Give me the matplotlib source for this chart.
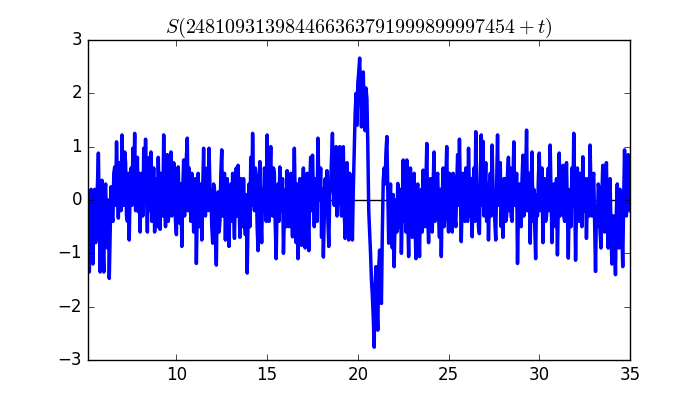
import numpy as np
import matplotlib
matplotlib.use("Agg")
import matplotlib.pyplot as plt

plt.style.use("classic")

s_vals = [
    -0.5, 0.15, -1.35, -0.3, 0.2, -0.6, -1.2, 0.1, 0.2, -0.8,
    -0.5, 0.3, 0.88, -0.2, -1.35, -0.4, 0.37, -0.9, -1.35, 0.1,
    0.3, -0.5, -0.9, 0.0, -1.47, -0.6, 0.25, -0.3, -0.4, 0.5,
    0.62, -0.1, 1.09, 0.3, -0.34, 0.7, 0.6, -0.2, 1.22, 0.4,
    -0.1, 0.9, 0.7, -0.3, -0.4, 0.5, -0.75, 0.2, 0.6, -0.1,
    0.97, 0.3, 1.25, -0.2, 0.2, 0.8, -0.22, 0.5, -0.6, 0.3,
    0.5, -0.3, 0.97, 0.1, 1.14, 0.2, -0.6, 0.4, 0.8, -0.2,
    0.9, -0.4, 0.1, 0.6, -0.6, 0.2, 0.4, -0.5, 0.8, 0.0,
    -0.55, 0.5, 0.3, -0.3, 1.22, 0.1, -0.5, 0.4, 0.85, -0.4,
    -0.2, 0.6, 0.9, -0.3, 0.1, 0.7, 0.6, -0.4, -0.65, 0.2,
    0.62, -0.1, -0.44, 0.3, -0.87, 0.2, 0.75, -0.3, 0.1, 0.8,
    1.16, -0.2, 0.6, 0.1, -0.4, 0.5, 0.3, -0.6, -0.3, 0.4,
    -1.19, -0.2, 0.5, -0.5, -0.2, 0.3, -0.75, 0.2, 0.97, -0.1,
    -0.3, 0.4, 0.6, -0.2, 0.97, 0.2, 0.13, -0.5, -0.81, 0.3,
    0.2, -0.5, -1.22, 0.0, 0.15, -0.6, -0.4, 0.5, 0.94, -0.3,
    0.1, 0.5, -0.75, 0.1, 0.4, -0.5, -0.87, 0.1, 0.3, -0.4,
    0.5, -0.2, -0.72, 0.3, 0.6, -0.3, 0.65, 0.0, -0.7, 0.4,
    0.2, -0.5, 0.4, -0.2, -0.65, 0.1, -1.37, -0.4, 0.3, -0.5,
    0.8, -0.1, 1.25, 0.3, -0.2, 0.6, 0.4, -0.5, -0.95, 0.2,
    0.72, -0.3, -0.8, 0.2, -0.2, 0.6, 0.5, -0.4, 1.22, 0.2,
    -0.4, 0.4, 1.0, -0.2, -0.3, 0.6, 0.5, -0.5, -1.1, 0.0,
    0.3, -0.4, 0.62, 0.1, -0.2, 0.4, -1.0, -0.3, 0.2, -0.5,
    0.55, -0.1, -0.5, 0.3, 0.5, -0.3, -0.69, 0.2, 0.97, 0.0,
    -0.8, 0.3, -1.1, -0.2, 0.4, -0.4, -0.85, 0.2, 0.6, -0.3,
    -0.9, 0.1, 0.5, -0.4, -0.95, 0.3, 0.8, -0.2, 0.84, 0.2,
    -0.5, 0.4, 0.2, -0.4, 1.16, 0.3, 0.0, 0.6, -0.7, 0.2,
    -1.07, -0.3, 0.4, -0.2, 0.55, -0.4, -0.87, 0.1, 0.3, 0.8,
    1.25, 0.2, -0.1, 0.6, 1.0, -0.3, 0.2, 0.7, 1.0, 0.0,
    -0.3, 0.6, 1.0, -0.2, -0.72, 0.3, 0.7, -0.3, -0.75, 0.5,
    0.4, -0.3, -0.75, 0.2, 0.9, 1.6, 2.0, 1.4, 2.2, 2.4,
    2.66, 2.0, 1.37, 2.2, 2.4, 1.6, 1.3, 2.1, 1.9, 1.0,
    -0.2, -0.6, -1.0, -1.5, -1.8, -2.2, -2.76, -1.6, -1.25, -2.0,
    -2.44, -1.3, -0.94, -1.6, -1.94, -0.6, 0.37, 0.6, 0.3, 0.9,
    1.19, 0.2, -0.81, -0.2, 0.3, -0.5, -0.9, 0.1, -1.25, -0.4,
    0.0, -0.6, 0.31, -0.3, -0.5, 0.2, -1.0, -0.2, 0.75, -0.4,
    0.2, -0.6, 0.75, -0.3, -1.06, 0.1, 0.6, -0.2, -0.7, 0.3,
    0.5, -0.4, -1.1, 0.1, 0.3, -0.5, -1.06, 0.0, 0.2, -0.6,
    0.56, -0.2, -0.5, 0.3, 1.06, -0.3, -0.8, 0.2, 0.4, -0.5,
    -0.6, 0.3, 0.9, -0.4, -0.2, 0.4, 0.5, -0.3, -0.7, 0.2,
    -1.06, 0.0, 0.6, -0.5, -0.3, 0.4, 1.0, -0.2, -0.6, 0.5,
    0.3, -0.2, -0.6, 0.5, 0.4, -0.3, -0.5, 0.3, 0.85, -0.1,
    1.14, 0.2, -0.78, 0.0, 0.5, -0.3, -0.4, 0.6, 0.3, -0.4,
    0.97, 0.1, -0.3, 0.4, -0.69, 0.2, 0.6, -0.4, 1.28, 0.3,
    0.1, -0.5, -0.63, 0.4, 1.22, -0.1, 1.1, -0.3, 0.2, 0.7,
    -0.4, 0.3, -0.75, 0.0, 0.5, -0.3, 1.03, 0.2, 0.1, -0.4,
    -0.75, 0.3, 1.22, -0.1, 0.3, 0.7, -0.5, 0.2, -0.7, 0.4,
    0.4, -0.4, -0.3, 0.5, 0.8, -0.2, 0.6, -0.3, -0.4, 0.4,
    1.09, -0.1, 0.0, 0.5, -1.19, -0.2, 0.3, -0.4, -0.5, 0.4,
    0.84, -0.3, -0.2, 0.5, 1.31, -0.2, 0.1, 0.5, -0.81, 0.2,
    0.9, -0.4, 0.2, -0.5, -1.1, 0.1, -0.3, 0.4, 0.88, -0.2,
    0.2, 0.6, -0.8, 0.1, 0.4, -0.4, -0.3, 0.3, 0.6, -0.2,
    1.03, 0.1, -0.8, 0.0, 0.3, -0.4, -0.5, 0.4, -1.03, -0.1,
    0.88, -0.3, -0.2, 0.4, 0.65, -0.3, -0.4, 0.3, 0.7, -0.2,
    -1.09, 0.0, 0.2, -0.5, 0.6, -0.1, 1.25, 0.2, -1.13, -0.2,
    0.6, -0.3, -0.4, 0.5, 0.3, -0.5, 0.81, 0.0, -0.2, 0.4,
    -0.72, 0.1, 0.4, -0.3, 1.03, 0.2, -0.3, 0.4, 0.5, -0.4,
    -1.34, -0.2, -0.5, 0.3, 0.2, -0.6, -0.9, 0.1, 0.65, -0.2,
    -0.6, 0.3, 0.7, -0.4, -0.9, 0.2, 0.4, -0.5, -1.2, -0.3,
    -0.3, -0.9, -1.4, -0.2, 0.3, -0.5, -0.9, 0.2, 0.1, -0.6,
    -1.25, 0.0, 0.94, -0.2, -0.3, 0.6, 0.85, -0.1, -0.2,
]
t_start, t_end = 5.1, 35.0
t = np.linspace(t_start, t_end, len(s_vals))

title = r"$S(248109313984466363791999899997454+t)$"

fig = plt.figure(figsize=(7, 4), dpi=100)
ax = fig.add_subplot(111)
ax.axhline(0, color="k")
ax.plot(t, s_vals, color="b", linewidth=2.5)
ax.set_xlim(t_start, t_end)
ax.set_ylim(-3, 3)
ax.set_xticks([10, 15, 20, 25, 30, 35])
ax.set_yticks([-3, -2, -1, 0, 1, 2, 3])
ax.set_title(title)

fig.savefig("out.png", dpi=100, facecolor="white")
